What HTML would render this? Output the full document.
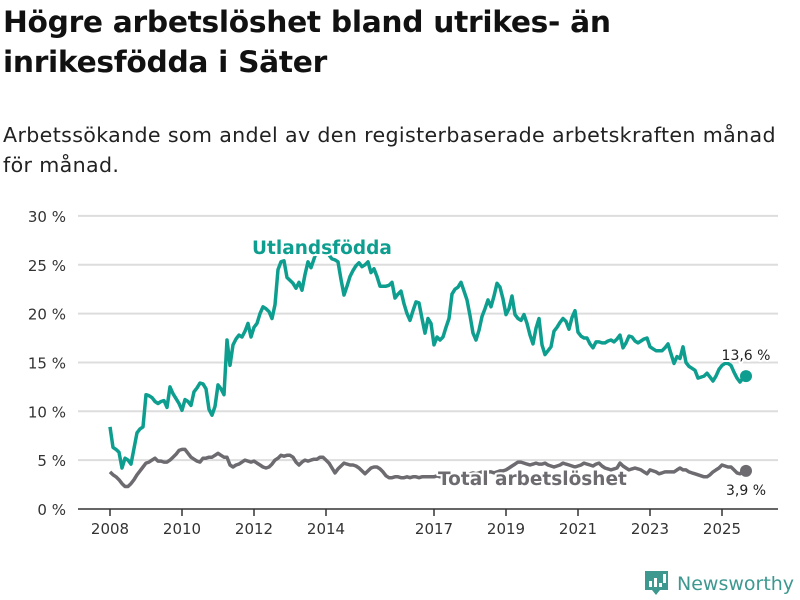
<!DOCTYPE html>
<html><head><meta charset="utf-8"><style>
body{margin:0;width:800px;height:600px;background:#fff;font-family:"Liberation Sans","DejaVu Sans",sans-serif;overflow:hidden;position:relative}
#title{position:absolute;left:3px;top:3px;font-size:29.7px;font-weight:bold;line-height:40px;color:#111;margin:0;font-family:"DejaVu Sans","Liberation Sans",sans-serif;letter-spacing:-0.3px}
#sub{position:absolute;left:3px;top:120px;font-size:20.6px;line-height:30px;color:#222;font-family:"DejaVu Sans","Liberation Sans",sans-serif;letter-spacing:0.35px;width:792px}
svg{position:absolute;left:0;top:0}
</style></head><body>
<h1 id="title">Högre arbetslöshet bland utrikes- än<br>inrikesfödda i Säter</h1>
<div id="sub">Arbetssökande som andel av den registerbaserade arbetskraften månad för månad.</div>
<svg id="chart" width="800" height="600"></svg>
<script>
const yTicks=[0,5,10,15,20,25,30];
const xTickYears=[2008,2010,2012,2014,2017,2019,2021,2023,2025];
const startYear=2008;
const foreign=[8.4,6.3,6.1,5.8,4.2,5.2,5.0,4.6,6.2,7.8,8.2,8.4,
11.7,11.6,11.4,11.0,10.8,11.0,11.1,10.4,12.5,11.8,11.3,10.8,
10.1,11.2,11.0,10.6,12.0,12.4,12.9,12.8,12.3,10.2,9.6,10.5,
12.7,12.3,11.7,17.3,14.7,16.8,17.4,17.8,17.6,18.2,19.0,17.6,
18.6,19.0,20.0,20.7,20.5,20.2,19.5,20.9,24.5,25.3,25.4,23.7,
23.4,23.1,22.6,23.2,22.4,24.0,25.3,24.7,25.6,26.5,27,27,
26.5,26,25.6,25.5,25.3,23.5,21.9,22.8,23.8,24.4,24.9,25.2,
24.8,25.0,25.3,24.2,24.6,23.8,22.8,22.8,22.8,22.9,23.2,21.6,
22.0,22.3,21.0,20.0,19.3,20.3,21.2,21.1,19.5,18.0,19.5,19.0,
16.8,17.6,17.3,17.6,18.6,19.5,22.0,22.5,22.7,23.2,22.3,21.4,
19.8,18.0,17.3,18.3,19.7,20.5,21.4,20.7,21.8,23.1,22.7,21.5,
19.9,20.5,21.8,19.9,19.5,19.3,19.9,19.0,17.8,16.9,18.5,19.5,
16.8,15.8,16.2,16.6,18.2,18.6,19.1,19.5,19.2,18.4,19.6,20.3,
18.1,17.7,17.5,17.5,16.9,16.5,17.1,17.1,17.0,17.0,17.2,17.3,
17.1,17.4,17.8,16.5,17.0,17.7,17.6,17.2,17.0,17.2,17.4,17.5,
16.6,16.4,16.2,16.2,16.2,16.5,16.9,15.9,14.9,15.6,15.4,16.6,
15.0,14.6,14.4,14.2,13.4,13.5,13.6,13.9,13.5,13.1,13.6,14.3,
14.7,14.9,14.9,14.7,14.0,13.4,13.0,13.4,13.6];
const total=[3.8,3.5,3.3,3.0,2.6,2.3,2.3,2.6,3.0,3.5,3.9,4.3,
4.7,4.8,5.0,5.2,4.9,4.9,4.8,4.8,5.0,5.3,5.6,6.0,
6.1,6.1,5.7,5.3,5.1,4.9,4.8,5.2,5.2,5.3,5.3,5.5,
5.7,5.5,5.3,5.3,4.5,4.3,4.5,4.6,4.8,5.0,4.9,4.8,
4.9,4.7,4.5,4.3,4.2,4.3,4.6,5.0,5.2,5.5,5.4,5.5,
5.5,5.3,4.8,4.5,4.8,5.0,4.9,5.0,5.1,5.1,5.3,5.3,
5.0,4.7,4.2,3.7,4.1,4.4,4.7,4.6,4.5,4.5,4.4,4.2,
3.9,3.6,3.9,4.2,4.3,4.3,4.1,3.8,3.4,3.2,3.2,3.3,
3.3,3.2,3.2,3.3,3.2,3.3,3.3,3.2,3.3,3.3,3.3,3.3,
3.3,3.4,3.3,3.4,3.5,3.4,3.5,3.5,3.4,3.5,3.6,3.5,
3.6,3.7,3.6,3.7,3.8,3.7,3.8,3.8,3.7,3.8,3.9,3.9,
4.0,4.2,4.4,4.6,4.8,4.8,4.7,4.6,4.5,4.6,4.7,4.6,
4.6,4.7,4.5,4.4,4.3,4.4,4.5,4.7,4.6,4.5,4.4,4.3,
4.4,4.5,4.7,4.6,4.5,4.4,4.6,4.7,4.4,4.2,4.1,4.0,
4.1,4.2,4.7,4.4,4.2,4.0,4.1,4.2,4.1,4.0,3.8,3.6,
4.0,3.9,3.8,3.6,3.7,3.8,3.8,3.8,3.8,4.0,4.2,4.0,
4.0,3.8,3.7,3.6,3.5,3.4,3.3,3.3,3.5,3.8,4.0,4.2,
4.5,4.4,4.3,4.3,4.0,3.7,3.6,3.8,3.9];
const NS='http://www.w3.org/2000/svg';
const svg=document.getElementById('chart');
const x0=110,pxPerYear=36,yBase=509,pxPerUnit=9.77;
function xScale(i){return x0+i*pxPerYear/12;}
function xYear(yr){return x0+(yr-startYear)*pxPerYear;}
function yScale(v){return yBase-v*pxPerUnit;}
function mk(tag,attrs,parent){const e=document.createElementNS(NS,tag);for(const k in attrs)e.setAttribute(k,attrs[k]);(parent||svg).appendChild(e);return e;}
yTicks.forEach(t=>{
  const g=mk('line',{x1:78,x2:778,y1:yScale(t),y2:yScale(t),stroke:t===0?'#333':'#ddd','stroke-width':t===0?1.5:2});
  
  
  const tx=mk('text',{x:66,y:yScale(t)+6,'text-anchor':'end','font-size':15,fill:'#333','font-family':'DejaVu Sans, Liberation Sans, sans-serif'});
  tx.textContent=t+' %';
  
  
});
xTickYears.forEach(yr=>{
  const x=xYear(yr);
  const l=mk('line',{x1:x,x2:x,y1:yBase,y2:yBase+7,stroke:'#333','stroke-width':1.5});
  
  
  const tx=mk('text',{x:x,y:534,'text-anchor':'middle','font-size':15,fill:'#333','font-family':'DejaVu Sans, Liberation Sans, sans-serif'});
  tx.textContent=yr;
  
  
});
function line(data,color,name){
  const d=data.map((v,i)=>(i?'L':'M')+xScale(i).toFixed(1)+','+yScale(v).toFixed(1)).join('');
  const p=mk('path',{d:d,fill:'none',stroke:color,'stroke-width':3.5,'stroke-linejoin':'round'});
  
  
  const n=data.length-1;
  const c=mk('circle',{cx:xScale(n),cy:yScale(data[n]),r:6,fill:color});
  
  
}
line(total,'#6d6b70','total-line');
line(foreign,'#0e9e8f','foreign-born-line');
function label(txt,x,y,size,color,weight,name,anchor){
  const t=mk('text',{x:x,y:y,'font-size':size,fill:color,'font-weight':weight,'text-anchor':anchor||'start',stroke:'#fff','stroke-width':4,'paint-order':'stroke','stroke-linejoin':'round','font-family':'DejaVu Sans, Liberation Sans, sans-serif'});
  t.textContent=txt;
  
  
}
label('Utlandsfödda',252,254,18.5,'#0e9e8f','bold','foreign-born-label');
label('Total arbetslöshet',438,485,18.5,'#6d6b70','bold','total-label');
const nf=foreign.length-1,nt=total.length-1;
label(foreign[nf].toFixed(1).replace('.',',')+' %',746,360,14,'#222','normal','foreign-end-value','middle');
label(total[nt].toFixed(1).replace('.',',')+' %',746,495,14,'#222','normal','total-end-value','middle');
</script>
<svg width="800" height="600" style="pointer-events:none">
<path d="M645,571 h23 v19 h-8 l-4,5 l-4,-5 h-7 z" fill="#3d9890"/>
<rect x="649" y="581" width="3" height="6" fill="#fff"/><rect x="654" y="578" width="3" height="9" fill="#fff"/><rect x="659" y="583" width="3" height="4" fill="#fff"/><rect x="663" y="574" width="3" height="9" fill="#fff"/>
<text x="677" y="590" font-size="19" fill="#3d9890" font-family="DejaVu Sans, Liberation Sans, sans-serif">Newsworthy</text>
</svg>
</body></html>
